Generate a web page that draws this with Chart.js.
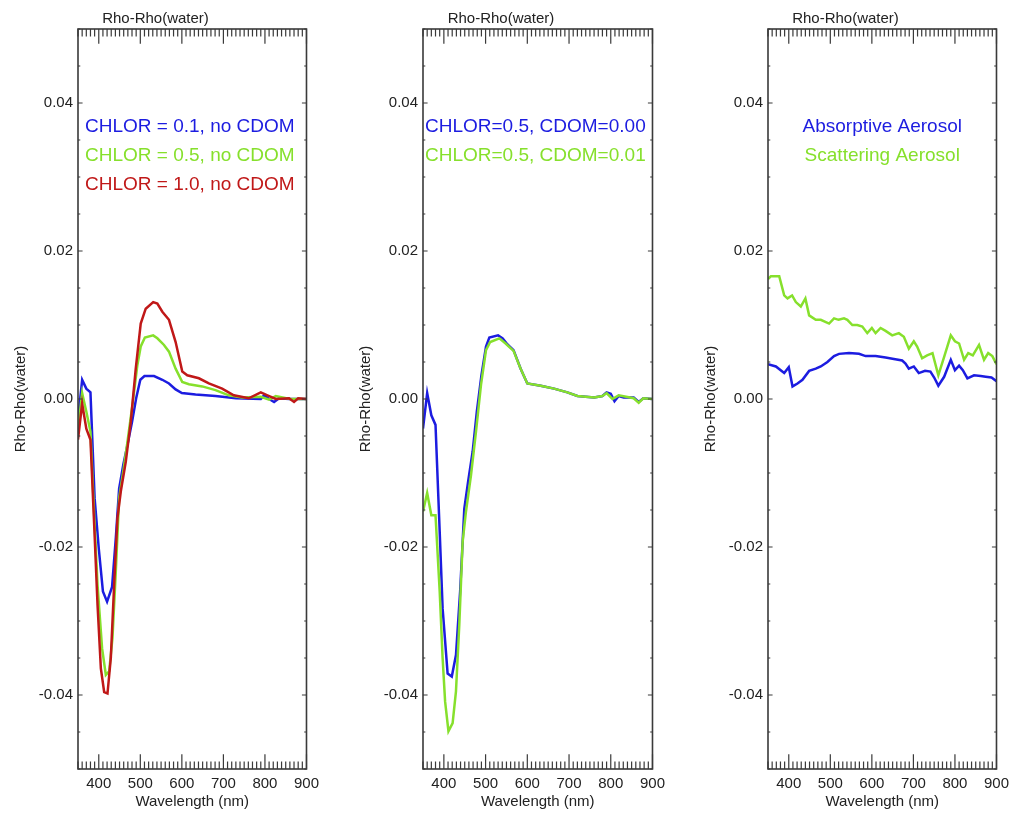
<!DOCTYPE html>
<html>
<head>
<meta charset="utf-8">
<script src="https://cdn.jsdelivr.net/npm/chart.js@4.4.0/dist/chart.umd.min.js"></script>
<style>
  body { margin: 0; background: #fff; }
  #wrap { position: relative; width: 1012px; height: 814px; overflow: hidden; }
  canvas { position: absolute; top: 0; }
</style>
</head>
<body>
<div id="wrap">
  <canvas id="chl" width="325" height="814" style="left:0px"></canvas>
  <canvas id="cdom" width="326" height="814" style="left:345px"></canvas>
  <canvas id="aer" width="325" height="814" style="left:690px"></canvas>
</div>
<script>
// panel 1 - chlorophyll, no CDOM
const wlChl01 = [350, 360, 370, 380, 390, 400, 410, 420, 432, 441, 449, 459, 469, 480, 490, 500, 510, 533, 553, 569, 585, 600, 633, 681, 730, 790, 798, 810, 822, 834, 858, 900];
const chl01 = [-0.0028, 0.0026, 0.0014, 0.0009, -0.0134, -0.0202, -0.0260, -0.0274, -0.0254, -0.0188, -0.0121, -0.0089, -0.0062, -0.0031, 0.0001, 0.0026, 0.0031, 0.0031, 0.0026, 0.0021, 0.0013, 0.0008, 0.0006, 0.0004, 0.0001, 0.0000, 0.0005, 0.0000, -0.0004, 0.0001, 0.0000, 0.0000];

const wlChl05 = [350, 360, 370, 380, 390, 397, 408, 417, 425, 433, 441, 449, 459, 469, 481, 493, 501, 511, 531, 541, 557, 569, 585, 601, 617, 649, 681, 713, 745, 790, 810, 826, 860, 900];
const chl05 = [-0.0040, 0.0008, -0.0017, -0.0044, -0.0170, -0.0251, -0.0337, -0.0373, -0.0368, -0.0323, -0.0233, -0.0134, -0.0098, -0.0058, -0.0008, 0.0046, 0.0071, 0.0083, 0.0086, 0.0082, 0.0073, 0.0064, 0.0041, 0.0023, 0.0020, 0.0017, 0.0012, 0.0005, 0.0002, 0.0003, -0.0001, 0.0004, 0.0000, 0.0000];

const wlChl10 = [350, 360, 370, 380, 390, 397, 405, 413, 421, 429, 437, 445, 453, 465, 477, 489, 501, 513, 531, 541, 553, 569, 585, 601, 613, 641, 665, 697, 725, 761, 790, 806, 826, 858, 870, 880, 900];
const chl10 = [-0.0055, -0.0006, -0.0040, -0.0055, -0.0184, -0.0278, -0.0364, -0.0396, -0.0398, -0.0350, -0.0251, -0.0161, -0.0125, -0.0085, -0.0031, 0.0041, 0.0102, 0.0122, 0.0131, 0.0129, 0.0118, 0.0107, 0.0077, 0.0037, 0.0032, 0.0028, 0.0021, 0.0014, 0.0005, 0.0001, 0.0009, 0.0005, 0.0000, 0.0001, -0.0004, 0.0001, 0.0000];

// panel 2 - CDOM
const wlCdom000 = [350, 360, 370, 380, 390, 397, 409, 419, 429, 439, 449, 458, 469, 479, 490, 501, 509, 530, 541, 552, 567, 584, 600, 632, 664, 696, 720, 760, 780, 790, 800, 809, 819, 831, 855, 867, 878, 900];
const cdom000 = [-0.0040, 0.0008, -0.0022, -0.0035, -0.0179, -0.0283, -0.0371, -0.0375, -0.0346, -0.0260, -0.0148, -0.0112, -0.0071, -0.0017, 0.0032, 0.0071, 0.0083, 0.0086, 0.0082, 0.0074, 0.0066, 0.0041, 0.0021, 0.0018, 0.0014, 0.0009, 0.0004, 0.0002, 0.0004, 0.0009, 0.0007, -0.0003, 0.0004, 0.0002, 0.0002, -0.0004, 0.0001, 0.0000];

const wlCdom001 = [350, 360, 370, 380, 390, 397, 403, 411, 421, 429, 437, 445, 453, 465, 477, 489, 501, 511, 533, 548, 567, 584, 600, 632, 664, 696, 720, 760, 780, 790, 804, 819, 855, 867, 878, 900];
const cdom001 = [-0.0152, -0.0127, -0.0157, -0.0157, -0.0260, -0.0350, -0.0409, -0.0449, -0.0438, -0.0395, -0.0305, -0.0193, -0.0152, -0.0103, -0.0044, 0.0019, 0.0066, 0.0077, 0.0082, 0.0075, 0.0065, 0.0041, 0.0021, 0.0018, 0.0014, 0.0009, 0.0004, 0.0002, 0.0004, 0.0008, 0.0000, 0.0005, 0.0001, -0.0005, 0.0001, 0.0000];

// panel 3 - aerosols
const wlAbs = [350, 369, 389, 400, 409, 421, 433, 449, 465, 477, 493, 509, 521, 545, 569, 585, 609, 633, 653, 673, 681, 689, 701, 713, 728, 741, 750, 760, 774, 790, 800, 810, 819, 830, 846, 862, 874, 888, 900];
const absorptive = [0.0047, 0.0044, 0.0035, 0.0043, 0.0017, 0.0021, 0.0026, 0.0038, 0.0041, 0.0044, 0.0050, 0.0058, 0.0061, 0.0062, 0.0061, 0.0058, 0.0058, 0.0056, 0.0054, 0.0052, 0.0048, 0.0041, 0.0044, 0.0035, 0.0038, 0.0037, 0.0029, 0.0018, 0.0030, 0.0053, 0.0039, 0.0045, 0.0039, 0.0028, 0.0032, 0.0031, 0.0030, 0.0029, 0.0024];

const wlScat = [350, 357, 377, 389, 397, 408, 417, 429, 440, 449, 465, 477, 497, 509, 520, 533, 541, 553, 565, 577, 589, 600, 609, 621, 633, 649, 665, 677, 689, 701, 709, 721, 733, 746, 760, 774, 790, 800, 810, 822, 832, 843, 858, 870, 880, 890, 900];
const scattering = [0.0162, 0.0166, 0.0166, 0.0140, 0.0136, 0.0140, 0.0131, 0.0125, 0.0136, 0.0113, 0.0107, 0.0107, 0.0102, 0.0109, 0.0107, 0.0109, 0.0107, 0.0100, 0.0100, 0.0098, 0.0089, 0.0096, 0.0089, 0.0096, 0.0092, 0.0086, 0.0089, 0.0084, 0.0068, 0.0078, 0.0071, 0.0055, 0.0059, 0.0062, 0.0032, 0.0057, 0.0086, 0.0078, 0.0075, 0.0053, 0.0062, 0.0059, 0.0073, 0.0053, 0.0062, 0.0058, 0.0047];

const labelsChl = ["CHLOR = 0.1, no CDOM", "CHLOR = 0.5, no CDOM", "CHLOR = 1.0, no CDOM"];
const labelsCdom = ["CHLOR=0.5, CDOM=0.00", "CHLOR=0.5, CDOM=0.01"];
const labelsAer = ["Absorptive Aerosol", "Scattering Aerosol"];

const X_MIN = 350, X_MAX = 900, Y_MIN = -0.05, Y_MAX = 0.05;

const BLUE = "#1c1ce0";
const GREEN = "#86e02c";
const RED = "#c01818";
const AXIS = "#3a3a3a";
const TEXT = "#222";
const FONT = "'Liberation Sans', Arial, Helvetica, sans-serif";

function points(xs, ys) {
    return xs.map((x, i) => ({ x: x, y: ys[i] }));
}

function isMultiple(v, step) {
    return Math.abs(v / step - Math.round(v / step)) < 1e-6;
}

// IDL look: box frame, ticks pointing inward on all four sides, text legend inside
const idlFrame = {
    id: "idlFrame",
    afterDatasetsDraw(chart, args, opts) {
        const ctx = chart.ctx;
        const a = chart.chartArea;
        const xs = chart.scales.x, ys = chart.scales.y;
        const w = a.right - a.left, h = a.bottom - a.top;
        ctx.save();
        ctx.strokeStyle = AXIS;
        ctx.lineWidth = 1.2;
        ctx.beginPath();
        xs.ticks.forEach(t => {
            const px = xs.getPixelForValue(t.value);
            const len = (isMultiple(t.value, 100) ? 0.02 : 0.01) * h;
            ctx.moveTo(px, a.bottom); ctx.lineTo(px, a.bottom - len);
            ctx.moveTo(px, a.top); ctx.lineTo(px, a.top + len);
        });
        ys.ticks.forEach(t => {
            const py = ys.getPixelForValue(t.value);
            const len = (isMultiple(t.value, 0.02) ? 0.02 : 0.01) * w;
            ctx.moveTo(a.left, py); ctx.lineTo(a.left + len, py);
            ctx.moveTo(a.right, py); ctx.lineTo(a.right - len, py);
        });
        ctx.stroke();
        ctx.lineWidth = 1.6;
        ctx.strokeRect(a.left, a.top, w, h);

        ctx.font = "19px " + FONT;
        ctx.textBaseline = "middle";
        ctx.textAlign = opts.align;
        const tx = opts.align === "center" ? (a.left + a.right) / 2 : a.left + opts.dx;
        opts.labels.forEach((txt, i) => {
            ctx.fillStyle = opts.colors[i];
            ctx.fillText(txt, tx, a.top + 98 + i * 28.7);
        });
        ctx.restore();
    }
};

function makePanel(id, datasets, labels, colors, align, dx) {
    return new Chart(document.getElementById(id), {
        type: "line",
        data: { datasets: datasets },
        plugins: [idlFrame],
        options: {
            responsive: false,
            animation: false,
            devicePixelRatio: 1,
            layout: { padding: { left: 0, right: 14, top: 0, bottom: 0 } },
            elements: { point: { radius: 0 }, line: { borderWidth: 2.5, tension: 0 } },
            plugins: {
                legend: { display: false },
                tooltip: { enabled: false },
                title: {
                    display: true,
                    text: "Rho-Rho(water)",
                    color: TEXT,
                    font: { family: FONT, size: 15, weight: "normal" },
                    padding: { top: 10, bottom: 1 }
                },
                idlFrame: { labels: labels, colors: colors, align: align, dx: dx }
            },
            scales: {
                x: {
                    type: "linear",
                    min: X_MIN,
                    max: X_MAX,
                    grid: { display: false, drawTicks: false },
                    border: { display: false },
                    ticks: {
                        stepSize: 10,
                        autoSkip: false,
                        maxRotation: 0,
                        padding: 6,
                        color: TEXT,
                        font: { family: FONT, size: 15 },
                        callback: v => isMultiple(v, 100) ? String(Math.round(v)) : ""
                    },
                    title: {
                        display: true,
                        text: "Wavelength (nm)",
                        color: TEXT,
                        font: { family: FONT, size: 15 },
                        padding: { top: 0, bottom: 3 }
                    },
                    afterFit: s => { s.height = 45; }
                },
                y: {
                    min: Y_MIN,
                    max: Y_MAX,
                    grid: { display: false, drawTicks: false },
                    border: { display: false },
                    ticks: {
                        stepSize: 0.005,
                        autoSkip: false,
                        padding: 5,
                        color: TEXT,
                        font: { family: FONT, size: 15 },
                        callback: v => {
                            if (!isMultiple(v, 0.02)) return "";
                            return Math.abs(v) < 1e-9 ? "0.00" : v.toFixed(2);
                        }
                    },
                    title: {
                        display: true,
                        text: "Rho-Rho(water)",
                        color: TEXT,
                        font: { family: FONT, size: 15 },
                        padding: { top: 12, bottom: 0 }
                    },
                    afterFit: s => { s.width = 78; }
                }
            }
        }
    });
}

function line(xs, ys, color, order) {
    return { data: points(xs, ys), borderColor: color, backgroundColor: color, order: order, fill: false };
}

makePanel("chl", [
    line(wlChl01, chl01, BLUE, 3),
    line(wlChl05, chl05, GREEN, 2),
    line(wlChl10, chl10, RED, 1)
], labelsChl, [BLUE, GREEN, RED], "left", 7);

makePanel("cdom", [
    line(wlCdom000, cdom000, BLUE, 2),
    line(wlCdom001, cdom001, GREEN, 1)
], labelsCdom, [BLUE, GREEN], "left", 2);

makePanel("aer", [
    line(wlAbs, absorptive, BLUE, 2),
    line(wlScat, scattering, GREEN, 1)
], labelsAer, [BLUE, GREEN], "center", 0);
</script>
</body>
</html>
